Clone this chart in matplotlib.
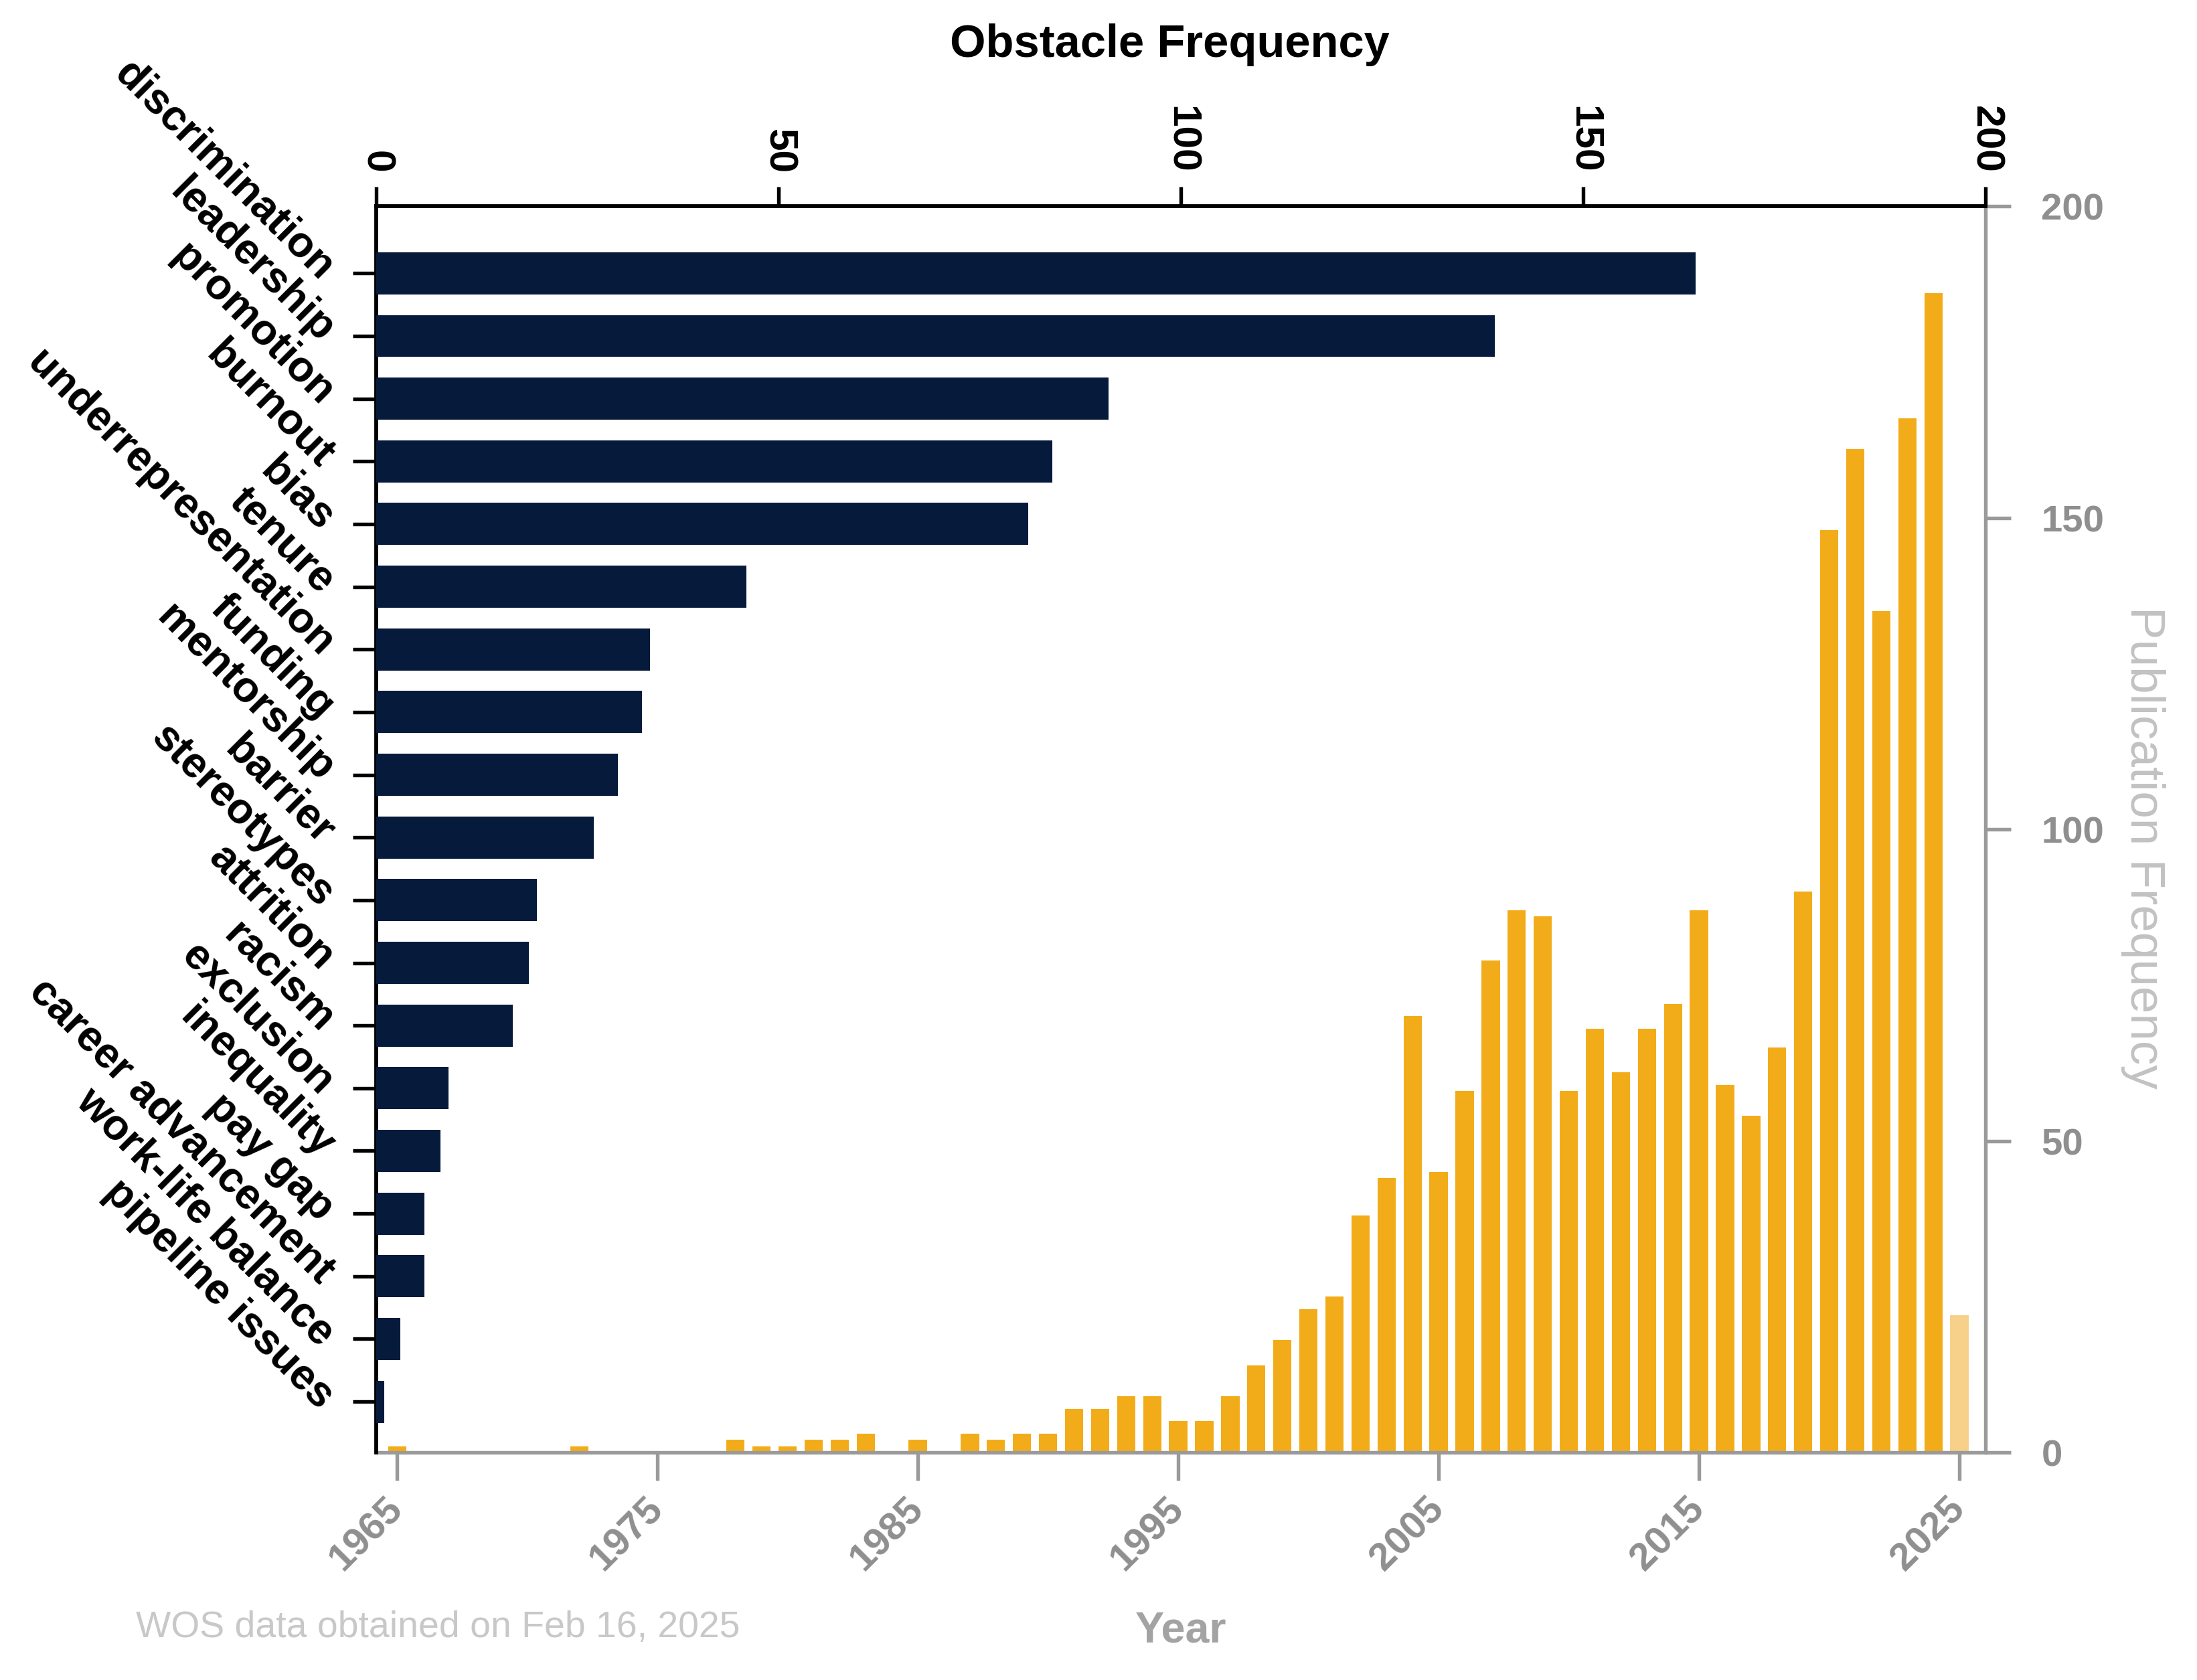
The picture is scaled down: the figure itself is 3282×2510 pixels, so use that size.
import numpy as np
import matplotlib
matplotlib.use("Agg")
import matplotlib.pyplot as plt

plt.rcParams['font.family'] = ['Liberation Sans', 'DejaVu Sans']

# ---------------- data ----------------
categories = ['discrimination', 'leadership', 'promotion', 'burnout', 'bias', 'tenure',
              'underrepresentation', 'funding', 'mentorship', 'barrier', 'stereotypes',
              'attrition', 'racism', 'exclusion', 'inequality', 'pay gap',
              'career advancement', 'work-life balance', 'pipeline issues']
obstacle_freq = [164, 139, 91, 84, 81, 46, 34, 33, 30, 27, 20, 19, 17, 9, 8, 6, 6, 3, 1]

years = list(range(1965, 2026))
publications = [1, 0, 0, 0, 0, 0, 0, 1, 0, 0,          # 1965-1974
                0, 0, 0, 2, 1, 1, 2, 2, 3, 0,          # 1975-1984
                2, 0, 3, 2, 3, 3, 7, 7, 9, 9,          # 1985-1994
                5, 5, 9, 14, 18, 23, 25, 38, 44, 70,   # 1995-2004
                45, 58, 79, 87, 86, 58, 68, 61, 68, 72,  # 2005-2014
                87, 59, 54, 65, 90, 148, 161, 135, 166, 186,  # 2015-2024
                22]                                     # 2025 (partial)
partial_year = 2025

obstacle_ticks = [0, 50, 100, 150, 200]
pub_ticks = [0, 50, 100, 150, 200]
year_ticks = list(range(1965, 2026, 10))

# ---------------- style ----------------
NAVY = '#061a3c'
GOLD = '#f3ac19'
GOLD_LIGHT = '#f7d08a'
GRAY = '#8f8f8f'
GRAY_LABEL = '#a3a3a3'
GRAY_YLABEL = '#c2c2c2'

W, H = 3282, 2511
fig = plt.figure(figsize=(W / 300, H / 300), dpi=300)
fig.patch.set_facecolor('white')

left, right, top, bottom = 562, 2966, 309, 2171
rect = [left / W, 1 - bottom / H, (right - left) / W, (bottom - top) / H]

# ---------- publication axes (bottom / right) ----------
ax_pub = fig.add_axes(rect)
colors = [GOLD_LIGHT if y == partial_year else GOLD for y in years]
ax_pub.bar(years, publications, width=0.7, color=colors, zorder=2)
ax_pub.set_xlim(1964.2, 2026.0)
ax_pub.set_ylim(0, 200)
ax_pub.yaxis.tick_right()
ax_pub.yaxis.set_label_position('right')
for s in ['top', 'left']:
    ax_pub.spines[s].set_visible(False)
for s in ['bottom', 'right']:
    ax_pub.spines[s].set_color('#9a9a9a')
    ax_pub.spines[s].set_linewidth(1.3)
ax_pub.set_yticks(pub_ticks)
ax_pub.set_yticklabels([str(t) for t in pub_ticks], fontsize=13.5, fontweight='bold', color=GRAY)
ax_pub.set_xticks(year_ticks)
ax_pub.set_xticklabels([str(t) for t in year_ticks], fontsize=14, fontweight='bold', color=GRAY,
                       rotation=45, ha='right', va='center', rotation_mode='anchor')
ax_pub.tick_params(axis='y', colors='#9a9a9a', labelcolor=GRAY, length=9, width=1.3, pad=11)
ax_pub.tick_params(axis='x', colors='#9a9a9a', labelcolor=GRAY, length=10, width=1.3, pad=8)
ax_pub.set_xlabel('Year', fontsize=15.5, fontweight='bold', color=GRAY_LABEL, labelpad=12)
ax_pub.set_ylabel('Publication Frequency', fontsize=17.5, color=GRAY_YLABEL,
                  rotation=270, ha='center', va='center')
ax_pub.yaxis.set_label_coords(1.098, 0.486)

# ---------- obstacle axes (top / left) ----------
ax_obs = fig.add_axes(rect)
ax_obs.patch.set_visible(False)
ypos = np.arange(len(categories))
ax_obs.barh(ypos, obstacle_freq, height=0.67, color=NAVY, zorder=3)
ax_obs.set_xlim(0, 200)
ax_obs.set_ylim(18.81, -1.07)
ax_obs.xaxis.tick_top()
ax_obs.xaxis.set_label_position('top')
for s in ['bottom', 'right']:
    ax_obs.spines[s].set_visible(False)
for s in ['top', 'left']:
    ax_obs.spines[s].set_color('black')
    ax_obs.spines[s].set_linewidth(1.4)
ax_obs.set_xticks(obstacle_ticks)
ax_obs.set_xticklabels([str(t) for t in obstacle_ticks], fontsize=14.5, fontweight='bold',
                       rotation=-90, color='black')
ax_obs.set_yticks(ypos)
ax_obs.set_yticklabels(categories, fontsize=15.3, fontweight='bold', rotation=-45,
                       ha='right', va='center', rotation_mode='anchor')
ax_obs.tick_params(axis='x', length=7, width=1.3, pad=5)
ax_obs.tick_params(axis='y', length=8.5, width=1.3, pad=9)
ax_obs.set_xlabel('Obstacle Frequency', fontsize=16.5, fontweight='bold',
                  ha='center', va='center')
ax_obs.xaxis.set_label_coords(0.493, 1.130)

fig.text(203 / W, 1 - 2432 / H, 'WOS data obtained on Feb 16, 2025', fontsize=13.3,
         color='#c8c8c8', ha='left', va='center')

fig.savefig('out.png', dpi=300, facecolor='white')
